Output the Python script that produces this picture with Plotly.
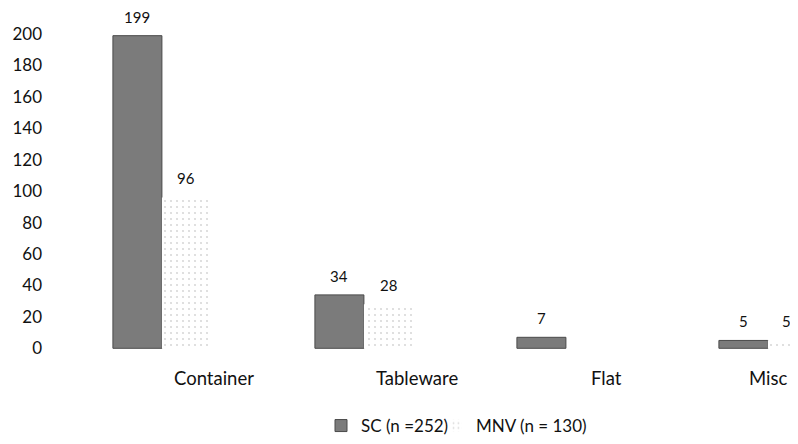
import plotly.graph_objects as go

categories = ["Container", "Tableware", "Flat", "Misc"]
sc_values = [199, 34, 7, 5]
mnv_values = [96, 28, None, 5]
sc_name = "SC (n =252)"
mnv_name = "MNV (n = 130)"
y_ticks = [0, 20, 40, 60, 80, 100, 120, 140, 160, 180, 200]

FONT = "Lato, 'Open Sans', sans-serif"
W = 0.2426  # bar width in category units
pos = list(range(len(categories)))
sc_x = [p - W / 2 for p in pos]
mnv_x = [p + W / 2 for p in pos]

fig = go.Figure()
fig.add_trace(go.Bar(
    x=sc_x, y=sc_values, width=W, name=sc_name, legend="legend",
    marker=dict(color="#7b7b7b", line=dict(color="#4a4a4a", width=1)),
))
fig.add_trace(go.Bar(
    x=mnv_x, y=mnv_values, width=W, name=mnv_name, legend="legend2",
    marker=dict(color="white", line=dict(width=0),
                pattern=dict(shape=".", fgcolor="#b0b0b0", bgcolor="white",
                             size=6, solidity=0.1)),
))

annotations = []
last = len(categories) - 1
for series, (xs, vals) in enumerate(((sc_x, sc_values), (mnv_x, mnv_values))):
    for i, (x, v) in enumerate(zip(xs, vals)):
        if v is None:
            continue
        xs_shift = -6 if (series == 1 and i == last) else 0
        annotations.append(dict(x=x, y=v, xref="x", yref="y", text=str(v),
                                showarrow=False, yanchor="bottom", yshift=8,
                                xshift=xs_shift,
                                font=dict(family=FONT, size=15, color="#111")))
label_shift = [52, 53, 41, 0]
for p, c, s in zip(pos, categories, label_shift):
    annotations.append(dict(x=p, y=0, xref="x", yref="y", text=c, showarrow=False,
                            yanchor="top", yshift=-17, xshift=s,
                            font=dict(family=FONT, size=18.5, color="#111")))

legend_style = dict(orientation="h", yanchor="bottom", y=-0.2414, xanchor="left",
                    font=dict(family=FONT, size=17, color="#111"), itemwidth=30,
                    bgcolor="rgba(0,0,0,0)")

fig.update_layout(
    width=790, height=436,
    margin=dict(l=40, r=0, t=4, b=84),
    paper_bgcolor="white", plot_bgcolor="white",
    barmode="overlay",
    showlegend=True,
    legend=dict(legend_style, x=0.364),
    legend2=dict(legend_style, x=0.5173),
    annotations=annotations,
    xaxis=dict(range=[-0.564, 3.149], showticklabels=False, showgrid=False,
               zeroline=False, showline=False, ticks=""),
    yaxis=dict(range=[-7.45, 214.07], tickvals=y_ticks, showgrid=False,
               zeroline=False, showline=False, ticks="", ticklabelstandoff=5,
               tickfont=dict(family=FONT, size=17, color="#111")),
)
fig.update_traces(cliponaxis=False)

fig.write_html("out.html")
